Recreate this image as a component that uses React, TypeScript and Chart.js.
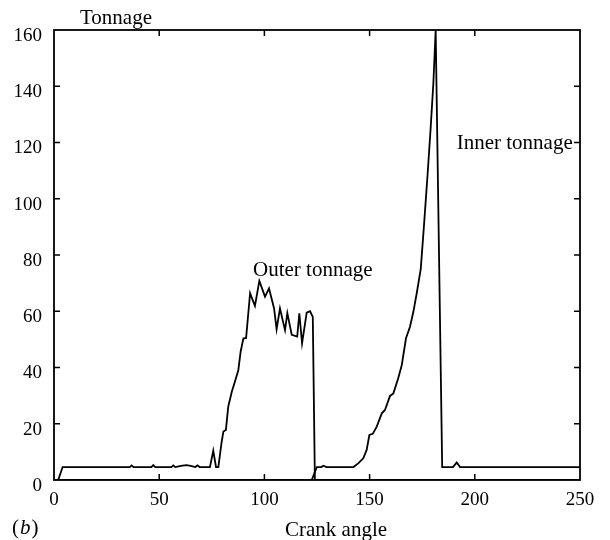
import React, { useEffect, useRef } from "react";
import { Chart, registerables } from "chart.js";

Chart.register(...registerables);

// Outer tonnage trace (crank angle in degrees, tonnage)
const outerAngle = [
  0, 2.0, 4.1, 36.0, 36.9, 37.8, 46.3, 47.2, 48.1, 55.8, 56.7, 57.6, 61.0, 63.0, 65.0, 67.2, 68.2, 69.2,
  74.1, 75.7, 77.0, 78.1, 79.7, 80.5, 81.7, 82.8, 84.5, 86.0, 87.6, 88.7, 90.0, 91.3, 93.2, 95.5,
  97.6, 100.3, 102.2, 104.6, 105.8, 107.4, 109.8, 110.9, 113.0, 115.6, 116.6, 117.9, 120.1, 121.7,
  123.0, 124.0, 250,
];
const outerTonnage = [
  0, 0, 4.6, 4.6, 5.2, 4.6, 4.6, 5.3, 4.6, 4.6, 5.2, 4.6, 5.1, 5.3, 5.0, 4.6, 5.2, 4.6,
  4.6, 10.4, 4.6, 4.6, 13.6, 17.2, 17.8, 26.0, 31.4, 35.0, 39.0, 45.6, 50.3, 50.5, 66.4, 61.9,
  70.8, 65.2, 68.1, 61.0, 53.6, 61.0, 53.3, 59.3, 51.6, 51.0, 59.3, 48.6, 59.5, 60.0,
  58.0, 0, 0,
];

// Inner tonnage trace
const innerAngle = [
  0, 122.5, 124.9, 127.0, 128.0, 129.5, 142.3, 144.6, 147.0, 148.6, 149.9, 151.5, 153.4, 155.8,
  157.3, 159.7, 161.3, 163.6, 165.3, 167.3, 169.2, 170.8, 172.4, 174.3, 175.8, 177.5, 179.0,
  180.3, 181.4, 184.5, 189.6, 191.4, 193.0, 250,
];
const innerTonnage = [
  0, 0, 4.6, 4.6, 5.1, 4.6, 4.6, 5.9, 7.7, 10.7, 16.0, 16.4, 19.0, 23.7,
  24.9, 29.9, 30.8, 36.2, 40.9, 50.4, 54.5, 59.8, 66.4, 75.0, 90.0, 108.0, 125.0,
  141.0, 160.0, 4.6, 4.6, 6.2, 4.6, 4.6,
];

const xTickValues = [0, 50, 100, 150, 200, 250];
const yTickValues = [0, 20, 40, 60, 80, 100, 120, 140, 160];

const SERIF = '"Liberation Serif", "Times New Roman", serif';

const framePlugin = {
  id: "frameAndText",
  afterDraw(chart: any) {
    const ctx = chart.ctx;
    const { left, right, top, bottom } = chart.chartArea;
    const xs = chart.scales.x;
    const ys = chart.scales.y;
    ctx.save();
    ctx.strokeStyle = "#000";
    ctx.lineWidth = 1.8;
    ctx.strokeRect(left, top, right - left, bottom - top);
    ctx.lineWidth = 1.5;
    const tl = 6;
    ctx.beginPath();
    for (const v of xTickValues) {
      if (v === xs.min || v === xs.max) continue;
      const px = xs.getPixelForValue(v);
      ctx.moveTo(px, bottom);
      ctx.lineTo(px, bottom - tl);
      ctx.moveTo(px, top);
      ctx.lineTo(px, top + tl);
    }
    for (const v of yTickValues) {
      if (v === ys.min || v === ys.max) continue;
      const py = ys.getPixelForValue(v);
      ctx.moveTo(left, py);
      ctx.lineTo(left + tl, py);
      ctx.moveTo(right, py);
      ctx.lineTo(right - tl, py);
    }
    ctx.stroke();

    ctx.fillStyle = "#000";
    ctx.textBaseline = "alphabetic";
    ctx.textAlign = "left";
    ctx.font = `21px ${SERIF}`;
    ctx.fillText("Tonnage", left + 26, top - 6);
    ctx.fillText("Outer tonnage", xs.getPixelForValue(94.6), ys.getPixelForValue(72.5));
    ctx.fillText("Inner tonnage", xs.getPixelForValue(191.4), ys.getPixelForValue(117.7));
    ctx.fillText("Crank angle", 285, 536);

    // (b) with italic b
    let bx = 12;
    const by = 534;
    ctx.font = `21px ${SERIF}`;
    ctx.fillText("(", bx, by);
    bx += ctx.measureText("(").width + 1;
    ctx.font = `italic 21px ${SERIF}`;
    ctx.fillText("b", bx, by);
    bx += ctx.measureText("b").width + 1;
    ctx.font = `21px ${SERIF}`;
    ctx.fillText(")", bx, by);
    ctx.restore();
  },
};

export default function App() {
  const ref = useRef<HTMLCanvasElement | null>(null);

  useEffect(() => {
    if (!ref.current) return;
    const outerData = outerAngle.map((a, i) => ({ x: a, y: outerTonnage[i] }));
    const innerData = innerAngle.map((a, i) => ({ x: a, y: innerTonnage[i] }));
    const chart = new Chart(ref.current, {
      type: "line",
      data: {
        datasets: [
          {
            label: "Outer tonnage",
            data: outerData,
            borderColor: "#000",
            borderWidth: 1.8,
            pointRadius: 0,
            tension: 0,
            fill: false,
          },
          {
            label: "Inner tonnage",
            data: innerData,
            borderColor: "#000",
            borderWidth: 1.8,
            pointRadius: 0,
            tension: 0,
            fill: false,
          },
        ],
      },
      options: {
        animation: false,
        responsive: true,
        maintainAspectRatio: false,
        layout: { padding: { left: 0, right: 30, top: 30, bottom: 0 } },
        plugins: {
          legend: { display: false },
          title: { display: false },
          tooltip: { enabled: false },
        },
        scales: {
          x: {
            type: "linear",
            min: 0,
            max: 250,
            afterBuildTicks: (s: any) => {
              s.ticks = xTickValues.map((v) => ({ value: v }));
            },
            ticks: {
              color: "#000",
              font: { family: SERIF, size: 19 },
              padding: 9,
              maxRotation: 0,
            },
            grid: { display: false, drawTicks: false },
            border: { display: false },
            afterFit: (s: any) => {
              s.height = 60;
            },
          },
          y: {
            type: "linear",
            min: 0,
            max: 160,
            afterBuildTicks: (s: any) => {
              s.ticks = yTickValues.map((v) => ({ value: v }));
            },
            ticks: {
              color: "#000",
              font: { family: SERIF, size: 19 },
              padding: 12,
              labelOffset: 6,
            },
            grid: { display: false, drawTicks: false },
            border: { display: false },
            afterFit: (s: any) => {
              s.width = 54;
            },
          },
        },
      },
      plugins: [framePlugin],
    });
    return () => chart.destroy();
  }, []);

  return (
    <div style={{ position: "absolute", left: 0, top: 0, width: 610, height: 540, background: "#fff" }}>
      <canvas ref={ref} />
    </div>
  );
}
